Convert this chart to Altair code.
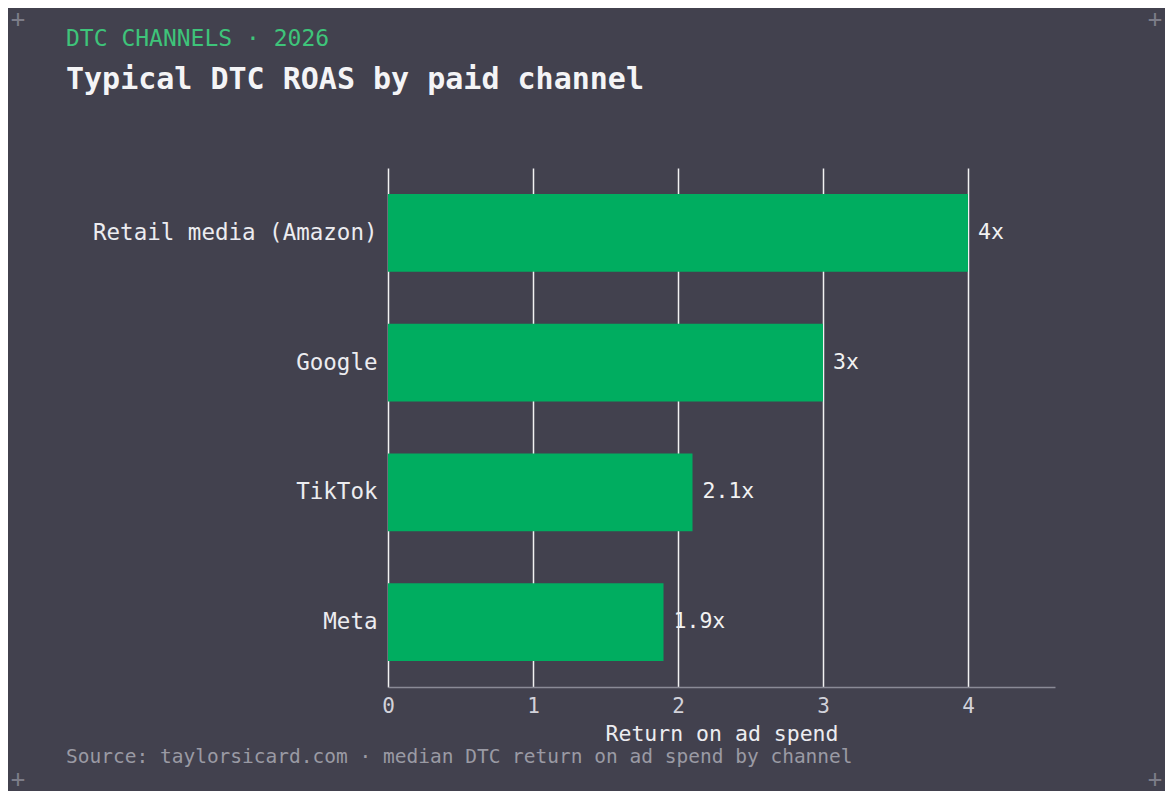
import altair as alt
import pandas as pd

# datos
canales = ["Retail media (Amazon)", "Google", "TikTok", "Meta"]
roas = [4.0, 3.0, 2.1, 1.9]
etiquetas = ["4x", "3x", "2.1x", "1.9x"]
ticks_x = [0, 1, 2, 3, 4]

df = pd.DataFrame({"canal": canales, "roas": roas, "etiqueta": etiquetas})

FONDO = "#42414e"
VERDE = "#00ad60"
FUENTE = "DejaVu Sans Mono"

W, H = 667, 519

base = alt.Chart(df).encode(
    y=alt.Y("canal:N", sort=canales, title=None,
            scale=alt.Scale(paddingInner=0.4, paddingOuter=0.2),
            axis=alt.Axis(domain=False, ticks=False, grid=False, labelPadding=11, labelLimit=400,
                          labelFont=FUENTE, labelFontSize=22.5, labelColor="#ececf0")),
)

barras = base.mark_bar(color=VERDE).encode(
    x=alt.X("roas:Q", title="Return on ad spend",
            scale=alt.Scale(domain=[0, 4.6], nice=False),
            axis=alt.Axis(values=ticks_x, format="d", grid=True, gridColor="#f2f2f2",
                          gridWidth=1.5, ticks=False, domainColor="#8a8a96", domainWidth=1.5,
                          labelFlush=False,
                          labelFont=FUENTE, labelFontSize=21, labelColor="#d2d2da",
                          labelPadding=8, titleFont=FUENTE, titleFontSize=21.5,
                          titleFontWeight="normal", titleColor="#ececf0", titlePadding=7)),
)

valores = base.mark_text(align="left", baseline="middle", dx=10, font=FUENTE,
                         fontSize=21.5, color="#f2f2f2").encode(
    x="roas:Q", text="etiqueta:N"
)

fuente_txt = alt.Chart(pd.DataFrame({"t": ["Source: taylorsicard.com · median DTC return on ad spend by channel"]})).mark_text(
    align="left", baseline="middle", font=FUENTE, fontSize=19.5, color="#9a9aa4"
).encode(x=alt.value(-322), y=alt.value(589), text="t:N")

cruces = alt.Chart(pd.DataFrame({"t": ["+", "+", "+", "+"],
                                 "px": [-370, 767, -370, 767],
                                 "py": [-148, -148, 612, 612]})).mark_text(
    align="center", baseline="middle", font=FUENTE, fontSize=24, color="#7c7c88"
).encode(x=alt.X("px:Q", scale=None), y=alt.Y("py:Q", scale=None), text="t:N")

chart = alt.layer(barras, valores, fuente_txt, cruces).properties(
    width=W, height=H,
    autosize=alt.AutoSizeParams(type="none"),
    padding={"left": 380, "top": 160, "right": 110, "bottom": 104},
    background=FONDO,
    title=alt.TitleParams(
        text="DTC CHANNELS · 2026",
        subtitle="Typical DTC ROAS by paid channel",
        anchor="start", frame="group", dx=-322, offset=-87,
        font=FUENTE, fontSize=23, fontWeight="normal", color="#3ec47a",
        subtitleFont=FUENTE, subtitleFontSize=30, subtitleFontWeight="bold",
        subtitleColor="#f4f4f6", subtitlePadding=14,
    ),
).configure_view(stroke=None)

chart.save("out.html", embed_options={"renderer": "svg", "actions": False})
